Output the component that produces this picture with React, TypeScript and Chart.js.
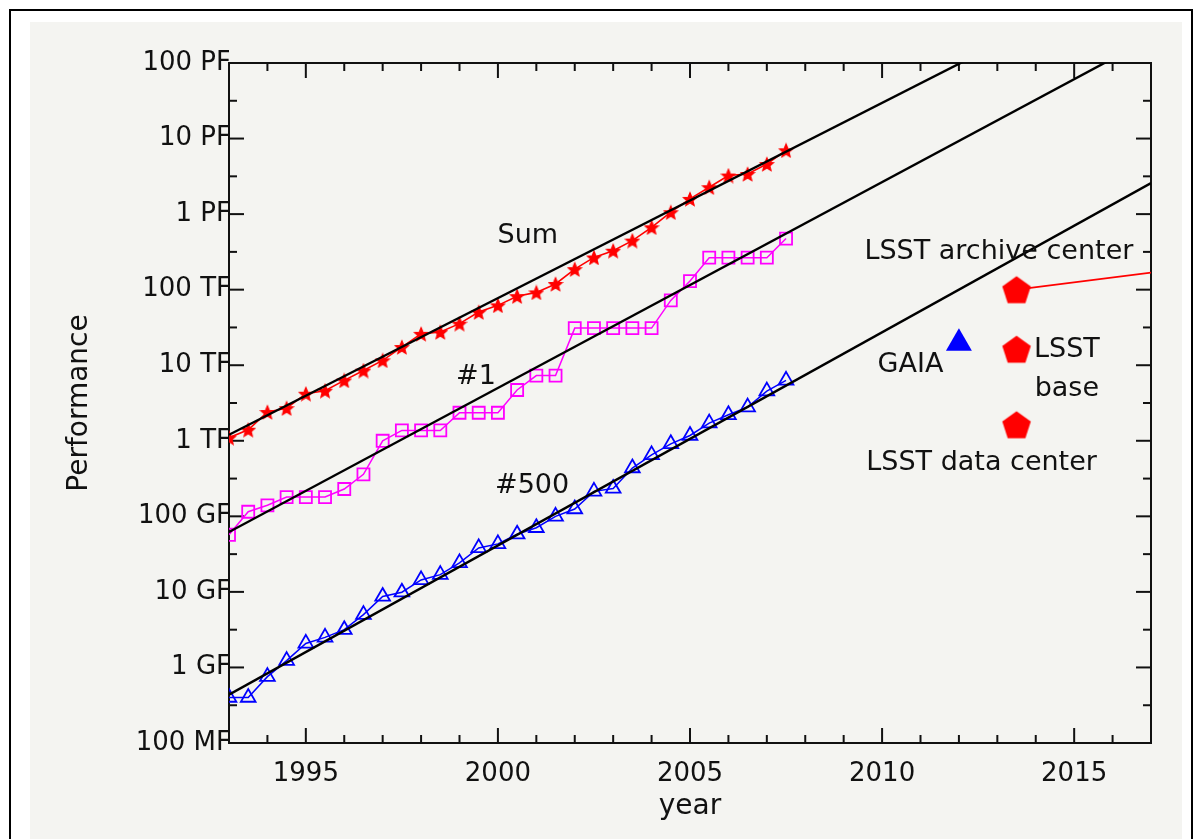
import React, { useEffect, useRef } from "react";
import { Chart, registerables } from "chart.js";

Chart.register(...registerables);

// ---------- data (performance in GFlop/s) ----------
const years = [
  1993, 1993.5, 1994, 1994.5, 1995, 1995.5, 1996, 1996.5, 1997, 1997.5,
  1998, 1998.5, 1999, 1999.5, 2000, 2000.5, 2001, 2001.5, 2002, 2002.5,
  2003, 2003.5, 2004, 2004.5, 2005, 2005.5, 2006, 2006.5, 2007, 2007.5,
];
const sumGF = [
  1100, 1400, 2400, 2700, 4200, 4600, 6300, 8500, 11600, 17400,
  26000, 27500, 35500, 50500, 62000, 82000, 92000, 119000, 187000, 267000,
  328000, 446000, 669000, 1060000, 1590000, 2270000, 3240000, 3400000, 4600000, 7000000,
];
const top1GF = [
  57, 115, 140, 180, 180, 180, 230, 360, 1000, 1370,
  1370, 1370, 2350, 2350, 2350, 4700, 7300, 7300, 31000, 31000,
  31000, 31000, 31000, 72000, 130000, 265000, 265000, 265000, 265000, 475000,
];
const top500GF = [
  0.4, 0.4, 0.755, 1.23, 2.08, 2.5, 3.16, 5.0, 8.7, 9.9,
  14.4, 16.9, 24.2, 38.2, 43.2, 58, 70.6, 100, 125, 214,
  234, 436, 650, 912, 1175, 1710, 2208, 2786, 4540, 6300,
];

// fitted trend lines (endpoints)
const fitYears = [1993, 2017];
const sumFitGF = [1200, 1.91e9];
const top1FitGF = [62, 2.14e8];
const top500FitGF = [0.436, 2.57e6];

// projects
const gaiaYear = [2012];
const gaiaGF = [19500];
const lsstYears = [2013.5, 2013.5, 2013.5];
const lsstGF = [100000, 16300, 1630];
const lsstGrowthYears = [2013.5, 2017];
const lsstGrowthGF = [100000, 168000];

// axes
const xMajorTicks = [1995, 2000, 2005, 2010, 2015];
const xMinorTicks = [
  1994, 1996, 1997, 1998, 1999, 2001, 2002, 2003, 2004, 2006, 2007, 2008,
  2009, 2011, 2012, 2013, 2014, 2016,
];
const yTickValues = [0.1, 1, 10, 100, 1e3, 1e4, 1e5, 1e6, 1e7, 1e8];
const yTickLabels = [
  "100 MF", "1 GF", "10 GF", "100 GF", "1 TF", "10 TF", "100 TF", "1 PF", "10 PF", "100 PF",
];
const yMinorTicks = [
  0.316, 3.16, 31.6, 316, 3162, 31623, 316228, 3162278, 31622777,
];

// text labels anchored at data coordinates
const labelTexts = ["Sum", "#1", "#500", "GAIA", "LSST archive center", "LSST", "base", "LSST data center"];
const labelYears = [2000.78, 1999.43, 2000.89, 2010.74, 2013.04, 2014.81, 2014.81, 2012.59];
const labelGF = [508000, 6890, 256, 9930, 312000, 15700, 4780, 516];

const FONT = "'DejaVu Sans', 'Liberation Sans', sans-serif";

function pts(xs: number[], ys: number[]) {
  return xs.map((x, i) => ({ x, y: ys[i] }));
}

function makeStar(size: number, color: string) {
  const c = document.createElement("canvas");
  c.width = size;
  c.height = size;
  const g = c.getContext("2d")!;
  const cx = size / 2;
  const cy = size / 2 + 0.8;
  const R = size / 2 - 1;
  const r = R * 0.45;
  g.beginPath();
  for (let i = 0; i < 10; i++) {
    const a = -Math.PI / 2 + (i * Math.PI) / 5;
    const rr = i % 2 === 0 ? R : r;
    g.lineTo(cx + rr * Math.cos(a), cy + rr * Math.sin(a));
  }
  g.closePath();
  g.fillStyle = color;
  g.fill();
  g.lineWidth = 1.2;
  g.strokeStyle = color;
  g.stroke();
  return c;
}

function makePentagon(R: number, color: string) {
  const size = Math.ceil(R * 2 + 2);
  const c = document.createElement("canvas");
  c.width = size;
  c.height = size;
  const g = c.getContext("2d")!;
  const cx = size / 2;
  const cy = size / 2 + 0.0955 * R;
  g.beginPath();
  for (let i = 0; i < 5; i++) {
    const a = -Math.PI / 2 + (i * 2 * Math.PI) / 5;
    g.lineTo(cx + R * Math.cos(a), cy + R * Math.sin(a));
  }
  g.closePath();
  g.fillStyle = color;
  g.fill();
  return c;
}

const framePlugin = {
  id: "frameTicks",
  beforeDatasetsDraw(chart: any) {
    const { ctx, chartArea } = chart;
    const { left, right, top, bottom } = chartArea;
    const xs = chart.scales.x;
    const ys = chart.scales.y;
    ctx.save();
    ctx.strokeStyle = "#111";
    ctx.lineWidth = 2;
    ctx.strokeRect(left, top, right - left, bottom - top);
    const line = (x1: number, y1: number, x2: number, y2: number) => {
      ctx.beginPath();
      ctx.moveTo(x1, y1);
      ctx.lineTo(x2, y2);
      ctx.stroke();
    };
    const MAJ = 15;
    const MIN = 8;
    xMajorTicks.forEach((v) => {
      const p = xs.getPixelForValue(v);
      line(p, bottom, p, bottom - MAJ);
      line(p, top, p, top + MAJ);
    });
    xMinorTicks.forEach((v) => {
      const p = xs.getPixelForValue(v);
      line(p, bottom, p, bottom - MIN);
      line(p, top, p, top + MIN);
    });
    yTickValues.forEach((v) => {
      const p = ys.getPixelForValue(v);
      line(left, p, left + MAJ, p);
      line(right, p, right - MAJ, p);
    });
    yMinorTicks.forEach((v) => {
      const p = ys.getPixelForValue(v);
      line(left, p, left + MIN, p);
      line(right, p, right - MIN, p);
    });
    ctx.restore();
  },
};

const labelPlugin = {
  id: "textLabels",
  afterDatasetsDraw(chart: any) {
    const { ctx } = chart;
    const xs = chart.scales.x;
    const ys = chart.scales.y;
    ctx.save();
    ctx.fillStyle = "#111";
    ctx.font = `27px ${FONT}`;
    ctx.textAlign = "center";
    ctx.textBaseline = "middle";
    labelTexts.forEach((t, i) => {
      ctx.fillText(t, xs.getPixelForValue(labelYears[i]), ys.getPixelForValue(labelGF[i]));
    });
    ctx.restore();
  },
};

export default function App() {
  const ref = useRef<HTMLCanvasElement | null>(null);

  useEffect(() => {
    if (!ref.current) return;
    const star = makeStar(16, "#ff0000");
    const pent = makePentagon(15, "#ff0000");
    const chart = new Chart(ref.current, {
      type: "scatter",
      data: {
        datasets: [
          {
            label: "Sum fit",
            data: pts(fitYears, sumFitGF),
            showLine: true,
            borderColor: "#000",
            borderWidth: 2.4,
            pointRadius: 0,
            clip: 0,
          },
          {
            label: "#1 fit",
            data: pts(fitYears, top1FitGF),
            showLine: true,
            borderColor: "#000",
            borderWidth: 2.4,
            pointRadius: 0,
            clip: 0,
          },
          {
            label: "#500 fit",
            data: pts(fitYears, top500FitGF),
            showLine: true,
            borderColor: "#000",
            borderWidth: 2.4,
            pointRadius: 0,
            clip: 0,
          },
          {
            label: "Sum",
            data: pts(years, sumGF),
            showLine: true,
            borderColor: "#ff0000",
            borderWidth: 1.6,
            pointStyle: star as any,
            pointRadius: 8,
          },
          {
            label: "#1",
            data: pts(years, top1GF),
            showLine: true,
            borderColor: "#ff00ff",
            borderWidth: 1.5,
            pointStyle: "rect",
            pointRadius: 8.5,
            pointBorderWidth: 1.8,
            pointBorderColor: "#ff00ff",
            pointBackgroundColor: "rgba(0,0,0,0)",
          },
          {
            label: "#500",
            data: pts(years, top500GF),
            showLine: true,
            borderColor: "#0000ff",
            borderWidth: 1.5,
            pointStyle: "triangle",
            pointRadius: 8.5,
            pointBorderWidth: 1.8,
            pointBorderColor: "#0000ff",
            pointBackgroundColor: "rgba(0,0,0,0)",
          },
          {
            label: "GAIA",
            data: pts(gaiaYear, gaiaGF),
            showLine: false,
            pointStyle: "triangle",
            pointRadius: 15,
            pointBorderWidth: 0,
            pointBackgroundColor: "#0000ff",
            pointBorderColor: "#0000ff",
          },
          {
            label: "LSST growth",
            data: pts(lsstGrowthYears, lsstGrowthGF),
            showLine: true,
            borderColor: "#ff0000",
            borderWidth: 1.6,
            pointRadius: 0,
            clip: 0,
          },
          {
            label: "LSST",
            data: pts(lsstYears, lsstGF),
            showLine: false,
            pointStyle: pent as any,
            pointRadius: 15,
          },
        ],
      },
      options: {
        animation: false,
        responsive: false,
        devicePixelRatio: 1,
        events: [],
        layout: { padding: { left: 0, top: 63, right: 50, bottom: 0 } },
        plugins: {
          legend: { display: false },
          tooltip: { enabled: false },
        },
        scales: {
          x: {
            type: "linear",
            min: 1993,
            max: 2017,
            grid: { display: false, drawTicks: false },
            border: { display: false },
            ticks: {
              color: "#111",
              font: { family: FONT, size: 26 },
              padding: 16,
              maxRotation: 0,
              autoSkip: false,
              callback: (v: any) => String(v),
            },
            afterBuildTicks: (s: any) => {
              s.ticks = xMajorTicks.map((v) => ({ value: v }));
            },
            afterFit: (s: any) => {
              s.height = 96;
            },
            title: {
              display: true,
              text: "year",
              color: "#111",
              font: { family: FONT, size: 28 },
              padding: { top: 0, bottom: 15 },
            },
          },
          y: {
            type: "logarithmic",
            min: 0.1,
            max: 1e8,
            grid: { display: false, drawTicks: false },
            border: { display: false },
            ticks: {
              color: "#111",
              font: { family: FONT, size: 26 },
              padding: -2,
              autoSkip: false,
              callback: (v: any) => {
                const i = yTickValues.findIndex((t) => Math.abs(Math.log10(t) - Math.log10(v)) < 1e-6);
                return i >= 0 ? yTickLabels[i] : "";
              },
            },
            afterBuildTicks: (s: any) => {
              s.ticks = yTickValues.map((v) => ({ value: v }));
            },
            afterFit: (s: any) => {
              s.width = 229;
            },
            title: {
              display: true,
              text: "Performance",
              color: "#111",
              font: { family: FONT, size: 28 },
              padding: { top: 63, bottom: 0 },
            },
          },
        },
      },
      plugins: [framePlugin, labelPlugin],
    } as any);
    return () => chart.destroy();
  }, []);

  return (
    <div
      style={{
        position: "absolute",
        left: 0,
        top: 0,
        width: 1201,
        height: 839,
        overflow: "hidden",
        background: "#ffffff",
      }}
    >
      <div
        style={{
          position: "absolute",
          left: 9,
          top: 9,
          width: 1180,
          height: 900,
          border: "2px solid #000",
        }}
      />
      <div
        style={{
          position: "absolute",
          left: 30,
          top: 22,
          width: 1152,
          height: 830,
          background: "#f4f4f1",
        }}
      />
      <canvas
        ref={ref}
        width={1201}
        height={839}
        style={{ position: "absolute", left: 0, top: 0, width: 1201, height: 839 }}
      />
    </div>
  );
}
